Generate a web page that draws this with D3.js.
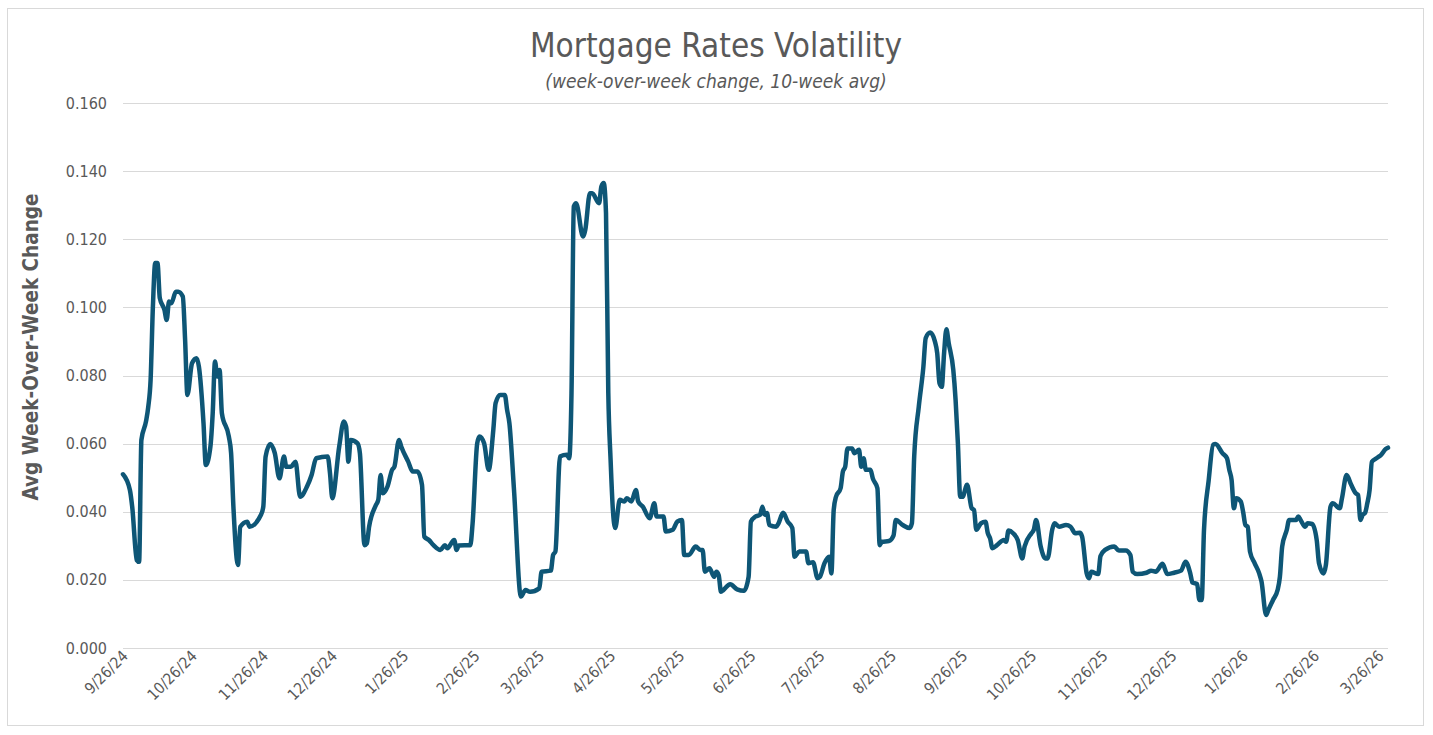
<!DOCTYPE html>
<html>
<head>
<meta charset="utf-8">
<script src="https://cdn.jsdelivr.net/npm/d3@7"></script>
<style>
  body { margin: 0; background: #fff; }
  text { font-family: "Liberation Sans Narrow", "DejaVu Sans Condensed", "Liberation Sans", sans-serif; fill: #595959; }
</style>
</head>
<body>
<div id="content"></div>
<script>
const dates = [
  "2024-09-26","2024-09-29","2024-09-30","2024-10-02","2024-10-03","2024-10-04","2024-10-06","2024-10-07","2024-10-08","2024-10-09",
  "2024-10-10","2024-10-11","2024-10-12","2024-10-14","2024-10-15","2024-10-16","2024-10-17","2024-10-19","2024-10-20","2024-10-22",
  "2024-10-23","2024-10-24","2024-10-26","2024-10-28","2024-10-29","2024-10-31",
  "2024-11-01","2024-11-03","2024-11-04","2024-11-05","2024-11-06","2024-11-07","2024-11-08","2024-11-11","2024-11-12","2024-11-13",
  "2024-11-15","2024-11-16","2024-11-19","2024-11-20","2024-11-25","2024-11-26","2024-11-27","2024-11-29",
  "2024-12-01","2024-12-03","2024-12-05","2024-12-06","2024-12-08","2024-12-10","2024-12-12","2024-12-15","2024-12-17","2024-12-19",
  "2024-12-24","2024-12-25","2024-12-26","2024-12-29","2024-12-31",
  "2025-01-01","2025-01-02","2025-01-03","2025-01-06","2025-01-07","2025-01-09","2025-01-10","2025-01-11","2025-01-14","2025-01-15",
  "2025-01-16","2025-01-17","2025-01-19","2025-01-21","2025-01-22","2025-01-24","2025-01-25","2025-01-28","2025-01-30",
  "2025-02-01","2025-02-03","2025-02-04","2025-02-06","2025-02-08","2025-02-11","2025-02-13","2025-02-14","2025-02-17","2025-02-18",
  "2025-02-19","2025-02-24","2025-02-25","2025-02-27","2025-02-28",
  "2025-03-02","2025-03-04","2025-03-06","2025-03-07","2025-03-09","2025-03-11","2025-03-12","2025-03-13","2025-03-15","2025-03-18",
  "2025-03-20","2025-03-22","2025-03-26","2025-03-27","2025-03-31",
  "2025-04-01","2025-04-02","2025-04-04","2025-04-07","2025-04-08","2025-04-09","2025-04-10","2025-04-11","2025-04-14","2025-04-15",
  "2025-04-17","2025-04-18","2025-04-21","2025-04-22","2025-04-23","2025-04-24","2025-04-25","2025-04-26","2025-04-27","2025-04-28",
  "2025-04-30",
  "2025-05-02","2025-05-03","2025-05-05","2025-05-07","2025-05-08","2025-05-10","2025-05-13","2025-05-15","2025-05-16","2025-05-19",
  "2025-05-20","2025-05-23","2025-05-25","2025-05-27","2025-05-28","2025-05-30",
  "2025-06-02","2025-06-04","2025-06-05","2025-06-06","2025-06-08","2025-06-10","2025-06-11","2025-06-12","2025-06-13","2025-06-14",
  "2025-06-17","2025-06-20","2025-06-23","2025-06-25","2025-06-26","2025-06-28","2025-06-30",
  "2025-07-01","2025-07-02","2025-07-03","2025-07-04","2025-07-07","2025-07-08","2025-07-10","2025-07-12","2025-07-14","2025-07-15",
  "2025-07-17","2025-07-20","2025-07-21","2025-07-23","2025-07-25","2025-07-26","2025-07-28","2025-07-30","2025-07-31",
  "2025-08-01","2025-08-02","2025-08-04","2025-08-05","2025-08-06","2025-08-07","2025-08-09","2025-08-10","2025-08-12","2025-08-13",
  "2025-08-14","2025-08-15","2025-08-17","2025-08-18","2025-08-20","2025-08-21","2025-08-22","2025-08-25","2025-08-27","2025-08-28",
  "2025-08-31",
  "2025-09-03","2025-09-04","2025-09-05","2025-09-07","2025-09-09","2025-09-10","2025-09-12","2025-09-14","2025-09-15","2025-09-16",
  "2025-09-17","2025-09-18","2025-09-19","2025-09-20","2025-09-22","2025-09-23","2025-09-24","2025-09-25","2025-09-26","2025-09-28",
  "2025-09-30",
  "2025-10-01","2025-10-02","2025-10-04","2025-10-06","2025-10-07","2025-10-08","2025-10-09","2025-10-11","2025-10-14","2025-10-15",
  "2025-10-16","2025-10-18","2025-10-20","2025-10-22","2025-10-23","2025-10-26","2025-10-27","2025-10-28","2025-10-30",
  "2025-11-01","2025-11-02","2025-11-04","2025-11-05","2025-11-07","2025-11-10","2025-11-12","2025-11-14","2025-11-16","2025-11-17",
  "2025-11-19","2025-11-20","2025-11-21","2025-11-24","2025-11-25","2025-11-27",
  "2025-12-01","2025-12-03","2025-12-06","2025-12-08","2025-12-09","2025-12-11","2025-12-15","2025-12-17","2025-12-19","2025-12-22",
  "2025-12-24","2025-12-27","2025-12-30",
  "2026-01-01","2026-01-03","2026-01-04","2026-01-06","2026-01-07","2026-01-08","2026-01-09","2026-01-11","2026-01-13","2026-01-14",
  "2026-01-17","2026-01-19","2026-01-20","2026-01-21","2026-01-22","2026-01-23","2026-01-25","2026-01-26","2026-01-27","2026-01-28",
  "2026-01-29","2026-01-31",
  "2026-02-02","2026-02-03","2026-02-05","2026-02-06","2026-02-08","2026-02-10","2026-02-11","2026-02-12","2026-02-14","2026-02-15",
  "2026-02-18","2026-02-19","2026-02-20","2026-02-22","2026-02-23","2026-02-25","2026-02-27","2026-02-28",
  "2026-03-02","2026-03-03","2026-03-05","2026-03-06","2026-03-09","2026-03-10","2026-03-12","2026-03-14","2026-03-16","2026-03-17",
  "2026-03-18","2026-03-19","2026-03-20","2026-03-21","2026-03-22","2026-03-23","2026-03-25","2026-03-26","2026-03-27","2026-03-29",
  "2026-03-30"
];

// avg week-over-week change, same order as dates
const values = [
  0.0510,0.0464,0.0415,0.0258,0.0253,0.0611,0.0665,0.0709,0.0787,0.1002,
  0.1130,0.1130,0.1027,0.0993,0.0963,0.1017,0.1012,0.1046,0.1046,0.1032,
  0.0905,0.0743,0.0836,0.0851,0.0826,0.0660,
  0.0537,0.0591,0.0689,0.0841,0.0797,0.0816,0.0689,0.0621,0.0572,0.0415,
  0.0244,0.0356,0.0371,0.0356,0.0391,0.0415,0.0562,0.0599,
  0.0572,0.0498,0.0562,0.0532,0.0532,0.0547,0.0444,0.0474,0.0508,0.0557,
  0.0562,0.0513,0.0440,0.0591,0.0665,
  0.0650,0.0547,0.0611,0.0601,0.0572,0.0302,0.0307,0.0356,0.0420,0.0435,
  0.0508,0.0454,0.0474,0.0523,0.0532,0.0611,0.0591,0.0547,0.0518,
  0.0518,0.0479,0.0327,0.0317,0.0302,0.0288,0.0302,0.0293,0.0317,0.0288,
  0.0301,0.0302,0.0366,0.0601,0.0621,
  0.0601,0.0523,0.0640,0.0719,0.0743,0.0743,0.0699,0.0660,0.0464,0.0151,
  0.0170,0.0165,0.0175,0.0224,0.0227,
  0.0273,0.0283,0.0562,0.0567,0.0557,0.0748,0.1296,0.1306,0.1208,0.1228,
  0.1335,0.1335,0.1306,0.1355,0.1365,0.1277,0.0748,0.0552,0.0405,0.0352,
  0.0435,
  0.0430,0.0440,0.0430,0.0464,0.0430,0.0415,0.0381,0.0425,0.0386,0.0386,
  0.0342,0.0347,0.0371,0.0376,0.0273,0.0273,
  0.0298,0.0288,0.0288,0.0224,0.0234,0.0209,0.0224,0.0214,0.0165,0.0170,
  0.0187,0.0172,0.0168,0.0209,0.0371,0.0386,0.0391,
  0.0415,0.0391,0.0396,0.0361,0.0356,0.0366,0.0397,0.0371,0.0352,0.0268,
  0.0283,0.0283,0.0249,0.0252,0.0205,0.0209,0.0249,0.0268,0.0219,
  0.0405,0.0444,0.0469,0.0518,0.0532,0.0586,0.0586,0.0572,0.0582,0.0532,
  0.0557,0.0523,0.0523,0.0498,0.0469,0.0302,0.0312,0.0314,0.0330,0.0376,
  0.0361,
  0.0352,0.0366,0.0562,0.0709,0.0826,0.0910,0.0926,0.0900,0.0866,0.0777,
  0.0767,0.0866,0.0936,0.0895,0.0816,0.0728,0.0601,0.0444,0.0444,0.0479,
  0.0410,
  0.0405,0.0347,0.0366,0.0371,0.0337,0.0322,0.0293,0.0302,0.0317,0.0312,
  0.0345,0.0337,0.0317,0.0263,0.0298,0.0337,0.0347,0.0376,0.0298,
  0.0263,0.0263,0.0347,0.0366,0.0356,0.0361,0.0356,0.0337,0.0338,0.0327,
  0.0219,0.0205,0.0224,0.0217,0.0270,0.0288,
  0.0298,0.0286,0.0286,0.0273,0.0224,0.0217,0.0221,0.0227,0.0224,0.0247,
  0.0217,0.0221,0.0227,
  0.0253,0.0220,0.0192,0.0188,0.0141,0.0141,0.0347,0.0490,0.0597,0.0599,
  0.0572,0.0557,0.0523,0.0493,0.0410,0.0440,0.0430,0.0400,0.0361,0.0356,
  0.0283,0.0249,
  0.0219,0.0195,0.0097,0.0112,0.0141,0.0170,0.0209,0.0298,0.0347,0.0376,
  0.0376,0.0386,0.0376,0.0356,0.0366,0.0364,0.0317,0.0249,
  0.0219,0.0244,0.0415,0.0425,0.0410,0.0440,0.0508,0.0479,0.0454,0.0449,
  0.0376,0.0391,0.0396,0.0425,0.0464,0.0547,0.0557,0.0562,0.0567,0.0584,
  0.0588
];

const yTicks = [0, 0.02, 0.04, 0.06, 0.08, 0.10, 0.12, 0.14, 0.16];
const xTickLabels = [
  "9/26/24","10/26/24","11/26/24","12/26/24","1/26/25","2/26/25","3/26/25","4/26/25","5/26/25","6/26/25",
  "7/26/25","8/26/25","9/26/25","10/26/25","11/26/25","12/26/25","1/26/26","2/26/26","3/26/26"
];

const chartTitle = "Mortgage Rates Volatility";
const chartSubtitle = "(week-over-week change, 10-week avg)";
const yTitle = "Avg Week-Over-Week Change";

const width = 1433;
const height = 735;
const lineColor = '#0e5676';

const parseIso = d3.timeParse('%Y-%m-%d');
const parseTick = d3.timeParse('%m/%d/%y');

const series = dates.map((d, i) => ({ date: parseIso(d), value: values[i] }));

const fig = d3.select('#content')
    .append('svg')
    .attr('width', width)
    .attr('height', height);

fig.append('rect')
    .attr('x', 7.5)
    .attr('y', 8.5)
    .attr('width', 1416)
    .attr('height', 717)
    .attr('fill', '#fff')
    .attr('stroke', '#d9d9d9');

const x = d3.scaleTime()
    .domain(d3.extent(series, (d) => d.date))
    .range([123, 1388]);

const y = d3.scaleLinear()
    .domain([0, 0.16])
    .range([648, 103]);

// gridlines
fig.append('g')
    .selectAll('line')
    .data(yTicks)
    .join('line')
    .attr('x1', 123)
    .attr('x2', 1388)
    .attr('y1', (d) => Math.round(y(d)) + 0.5)
    .attr('y2', (d) => Math.round(y(d)) + 0.5)
    .attr('stroke', '#d9d9d9')
    .attr('stroke-width', 1);

// y tick labels
fig.append('g')
    .selectAll('text')
    .data(yTicks)
    .join('text')
    .attr('x', 107)
    .attr('y', (d) => y(d))
    .attr('dy', '0.35em')
    .attr('text-anchor', 'end')
    .style('font-size', '16px')
    .text((d) => d3.format('.3f')(d));

// x tick labels, rotated
fig.append('g')
    .selectAll('text')
    .data(xTickLabels)
    .join('text')
    .attr('transform', (d) => `translate(${x(parseTick(d)) + 6},${657}) rotate(-45)`)
    .attr('text-anchor', 'end')
    .style('font-size', '15.5px')
    .text((d) => d);

const line = d3.line()
    .x((d) => x(d.date))
    .y((d) => y(d.value))
    .curve(d3.curveMonotoneX);

fig.append('path')
    .datum(series)
    .attr('d', line)
    .attr('fill', 'none')
    .attr('stroke', lineColor)
    .attr('stroke-width', 4.5)
    .attr('stroke-linejoin', 'round')
    .attr('stroke-linecap', 'round');

// titles
fig.append('text')
    .attr('x', 716)
    .attr('y', 57)
    .attr('text-anchor', 'middle')
    .style('font-size', '33px')
    .text(chartTitle);

fig.append('text')
    .attr('x', 716)
    .attr('y', 88)
    .attr('text-anchor', 'middle')
    .style('font-size', '19px')
    .style('font-style', 'italic')
    .text(chartSubtitle);

fig.append('text')
    .attr('transform', 'translate(38,347) rotate(-90)')
    .attr('text-anchor', 'middle')
    .style('font-size', '20.5px')
    .style('font-weight', 'bold')
    .text(yTitle);
</script>
</body>
</html>
